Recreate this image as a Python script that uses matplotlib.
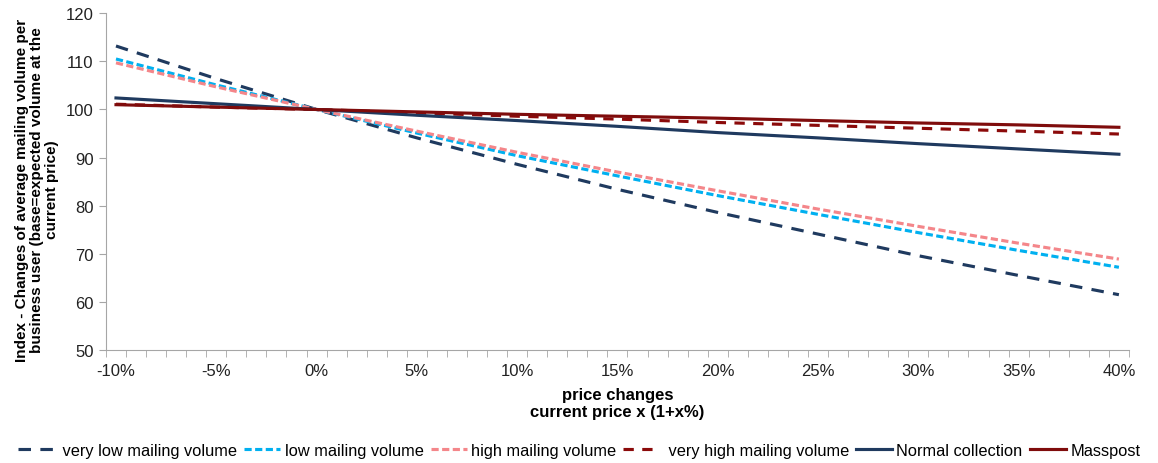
import matplotlib.pyplot as plt
from matplotlib.ticker import FuncFormatter

plt.rcParams['font.family'] = ['Liberation Sans', 'DejaVu Sans']

# price change in percent
price_change = [-10, -5, 0, 5, 10, 15, 20, 25, 30, 35, 40]

very_low = [113.2, 106.4, 100.0, 94.1, 88.6, 83.4, 78.6, 74.1, 69.6, 65.5, 61.5]
low = [110.5, 105.1, 100.0, 95.1, 90.4, 86.2, 82.1, 78.2, 74.4, 70.7, 67.2]
high = [109.7, 104.7, 100.0, 95.5, 91.1, 87.0, 83.1, 79.3, 75.7, 72.2, 68.9]
very_high = [101.1, 100.5, 100.0, 99.3, 98.6, 98.0, 97.3, 96.7, 96.1, 95.5, 94.9]
normal = [102.4, 101.2, 100.0, 98.8, 97.7, 96.5, 95.2, 94.1, 92.9, 91.8, 90.7]
masspost = [101.0, 100.5, 100.0, 99.5, 99.0, 98.6, 98.2, 97.7, 97.2, 96.8, 96.3]

fig = plt.figure(figsize=(11.58, 4.64), dpi=100)
ax = fig.add_axes([0.0915, 0.2435, 0.8834, 0.7257])

lw = 2.25
ax.plot(price_change, very_low, color='#1F3A5F', lw=lw, dashes=(4, 3), label=' very low mailing volume')
ax.plot(price_change, low, color='#00B0F0', lw=lw, dashes=(2.3, 1.1), label='low mailing volume')
ax.plot(price_change, high, color='#F4868A', lw=lw, dashes=(2.3, 1.1), label='high mailing volume')
ax.plot(price_change, very_high, color='#8B0A0A', lw=lw, dashes=(3.3, 2.7), label=' very high mailing volume')
ax.plot(price_change, normal, color='#1F3A5F', lw=lw, label='Normal collection')
ax.plot(price_change, masspost, color='#7F0C0C', lw=lw, label='Masspost')

# category style axis: one slot per percent, tick marks between slots
ax.set_xlim(-10.5, 40.5)
ax.set_ylim(50, 120)
ax.set_xticks(range(-10, 41, 5))
ax.set_xticks([k - 0.5 for k in range(-10, 42)], minor=True)
ax.set_yticks(range(50, 121, 10))
ax.xaxis.set_major_formatter(FuncFormatter(lambda v, p: '%d%%' % v))
ax.tick_params(axis='x', which='major', length=0, pad=9)
ax.tick_params(axis='x', which='minor', length=5, color='#A6A6A6')
ax.tick_params(axis='y', length=5, color='#A6A6A6', pad=4)
ax.tick_params(labelsize=12, labelcolor='#222222')

for s in ['top', 'right']:
    ax.spines[s].set_visible(False)
for s in ['left', 'bottom']:
    ax.spines[s].set_color('#A6A6A6')

ax.set_xlabel('price changes\ncurrent price x (1+x%)', fontsize=12, fontweight='bold', labelpad=7,
              linespacing=1.15)
ax.set_ylabel('Index - Changes of average mailing volume per\nbusiness user (base=expected volume at the\ncurrent price)',
              fontsize=11, fontweight='bold', linespacing=1.1)
ax.yaxis.set_label_coords(-0.046, 0.478)

fig.legend(loc='lower center', bbox_to_anchor=(0.5, -0.02), ncol=6, frameon=False, fontsize=11.8,
           handlelength=2.2, handletextpad=0.25, columnspacing=0.45)

plt.savefig('out.png', dpi=100)
